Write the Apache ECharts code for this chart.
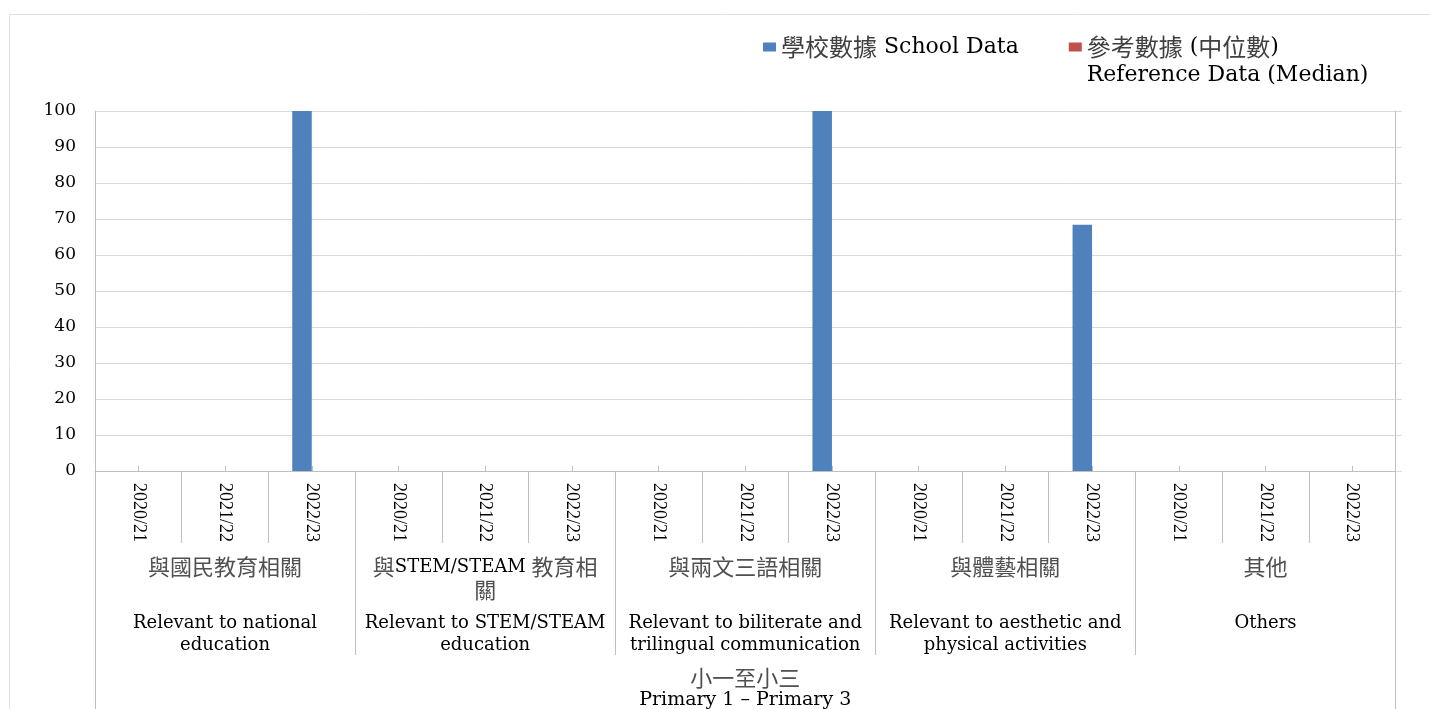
<!DOCTYPE html>
<html>
<head>
<meta charset="utf-8">
<title>小一至小三</title>
<script src="https://cdn.jsdelivr.net/npm/echarts@6/dist/echarts.min.js"></script>
<style>
html, body { margin: 0; padding: 0; background: #fff; }
#chart { width: 1430px; height: 709px; }
</style>
</head>
<body>
<div id="chart"></div>
<script>
// 圖表數據
const years = ['2020/21', '2021/22', '2022/23']
const groupZh = ['與國民教育相關', '與STEM/STEAM 教育相\n關', '與兩文三語相關', '與體藝相關', '其他']
const groupEn = [
  'Relevant to national\neducation',
  'Relevant to STEM/STEAM\neducation',
  'Relevant to biliterate and\ntrilingual communication',
  'Relevant to aesthetic and\nphysical activities',
  'Others'
]
const levelLabels = ['小一至小三\nPrimary 1 – Primary 3']
const seriesNames = ['學校數據 School Data', '參考數據 (中位數)\nReference Data (Median)']
const schoolData = [null, null, 100, null, null, null, null, null, 100, null, null, 68.4, null, null, null]
const referenceData = [null, null, null, null, null, null, null, null, null, null, null, null, null, null, null]
const yMin = 0
const yMax = 100
const yStep = 10

// 每個組別下的年度
const categories = groupZh.flatMap(() => years)

const serif = "'DejaVu Serif', 'Noto Sans CJK TC', serif"
const times = "'Liberation Serif', serif"
const cjk = "'Noto Sans CJK TC', sans-serif"
const sepColor = '#bfbfbf'
const gridColor = '#d9d9d9'

// 中文用 zh 樣式, 其餘用 en 樣式
function richify(line, zh, en) {
  return line.split(/([\u2E80-\u9FFF\uF900-\uFAFF]+)/)
    .filter(s => s !== '')
    .map(s => '{' + (/[\u2E80-\u9FFF]/.test(s) ? zh : en) + '|' + s + '}')
    .join('')
}

const chartInstance = echarts.init(document.getElementById('chart'))
const option = {
  animation: false,
  backgroundColor: '#fff',
  graphic: [
    {
      type: 'rect',
      silent: true,
      z: -10,
      shape: { x: 9.5, y: 14.5, width: 1500, height: 800 },
      style: { fill: 'none', stroke: '#e3e3e3', lineWidth: 1 }
    }
  ],
  legend: {
    left: 763,
    top: 5,
    padding: 0,
    icon: 'rect',
    itemWidth: 13,
    itemHeight: 9,
    itemGap: 50,
    selectedMode: false,
    data: [
      { name: seriesNames[0] },
      { name: seriesNames[1], textStyle: { padding: [28, 0, 0, 0] } }
    ],
    formatter: name => name.split('\n').map(l => richify(l, 'zh', 'en')).join('\n'),
    textStyle: {
      lineHeight: 28,
      rich: {
        zh: { fontFamily: cjk, fontSize: 24, color: '#404040', lineHeight: 28 },
        en: { fontFamily: serif, fontSize: 22, color: '#000', lineHeight: 28 }
      }
    }
  },
  grid: {
    left: 95,
    right: 34.5,
    top: 111,
    bottom: 238,
    containLabel: false,
    outerBoundsMode: 'none'
  },
  xAxis: [
    {
      // 年度
      type: 'category',
      data: categories,
      position: 'bottom',
      axisLine: { show: true, onZero: false, lineStyle: { color: sepColor } },
      axisTick: { show: true, interval: 0, length: 72, lineStyle: { color: sepColor } },
      axisLabel: { interval: 0, rotate: -90, margin: 12, fontFamily: times, fontSize: 18, color: '#000' },
      splitLine: { show: false }
    },
    {
      // 組別
      type: 'category',
      data: groupZh,
      position: 'bottom',
      axisLine: { show: false, onZero: false },
      axisTick: { show: true, interval: 0, length: 184, lineStyle: { color: sepColor } },
      axisLabel: {
        interval: 0,
        margin: 84.5,
        formatter: (value, index) => {
          const zhLines = groupZh[index].split('\n')
          while (zhLines.length < 2) zhLines.push(' ')
          const enLines = groupEn[index].split('\n')
          return zhLines.map(l => richify(l, 'zh', 'zl')).join('\n') +
            '\n{gap| }\n' +
            enLines.map(l => '{en|' + l + '}').join('\n')
        },
        rich: {
          zh: { fontFamily: cjk, fontSize: 22, color: '#505050', lineHeight: 23 },
          zl: { fontFamily: serif, fontSize: 18, color: '#000', lineHeight: 23 },
          gap: { fontSize: 8, lineHeight: 10.5 },
          en: { fontFamily: serif, fontSize: 18, color: '#000', lineHeight: 22 }
        }
      },
      splitLine: { show: false }
    },
    {
      // 學習階段
      type: 'category',
      data: levelLabels,
      position: 'bottom',
      axisLine: { show: false, onZero: false },
      axisTick: { show: true, interval: 0, length: 238, lineStyle: { color: sepColor } },
      axisLabel: {
        interval: 0,
        margin: 196,
        formatter: value => value.split('\n').map(l => richify(l, 'zh', 'en')).join('\n'),
        rich: {
          zh: { fontFamily: cjk, fontSize: 22, color: '#505050', lineHeight: 22 },
          en: { fontFamily: serif, fontSize: 19, color: '#000', lineHeight: 22 }
        }
      },
      splitLine: { show: false }
    },
    {
      // 類別中間的小刻度
      type: 'category',
      data: categories,
      position: 'bottom',
      axisLine: { show: false, onZero: false },
      axisTick: { show: true, interval: 0, alignWithLabel: true, inside: true, length: 5, lineStyle: { color: sepColor } },
      axisLabel: { show: false },
      splitLine: { show: false }
    }
  ],
  yAxis: [
    {
      type: 'value',
      min: yMin,
      max: yMax,
      interval: yStep,
      position: 'left',
      axisLine: { show: true, lineStyle: { color: sepColor } },
      axisTick: { show: false },
      axisLabel: { margin: 19, fontFamily: serif, fontSize: 17, color: '#000' },
      splitLine: { show: true, lineStyle: { color: gridColor } }
    },
    {
      type: 'value',
      min: yMin,
      max: yMax,
      interval: yStep,
      position: 'right',
      axisLine: { show: true, lineStyle: { color: sepColor } },
      axisTick: { show: true, length: 6, lineStyle: { color: gridColor } },
      axisLabel: { show: false },
      splitLine: { show: false }
    }
  ],
  series: [
    {
      name: seriesNames[0],
      type: 'bar',
      data: schoolData,
      barWidth: 19.5,
      barGap: '0%',
      itemStyle: { color: '#4F81BD' }
    },
    {
      name: seriesNames[1],
      type: 'bar',
      data: referenceData,
      barWidth: 19.5,
      barGap: '0%',
      itemStyle: { color: '#C0504D' }
    }
  ]
}
chartInstance.setOption(option)
</script>
</body>
</html>
